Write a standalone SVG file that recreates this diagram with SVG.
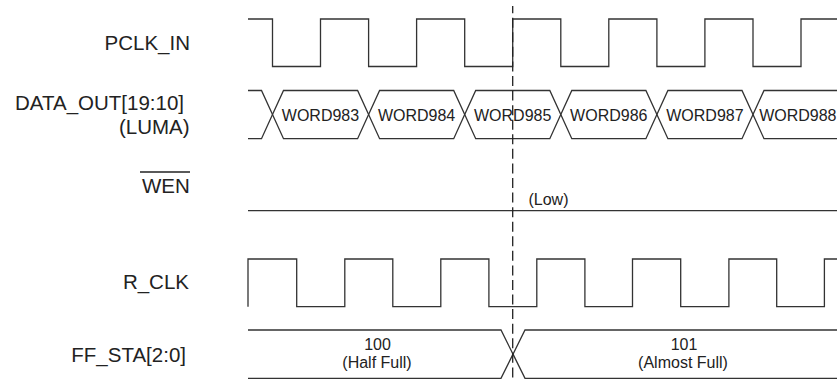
<svg xmlns="http://www.w3.org/2000/svg" width="837" height="381" viewBox="0 0 837 381">
<style>
  .sig { fill: none; stroke: #333; stroke-width: 1.3; stroke-linejoin: miter; }
  .lbl { font-family: "Liberation Sans", Arial, sans-serif; font-size: 20.5px; fill: #222; text-anchor: end; }
  .val { font-family: "Liberation Sans", Arial, sans-serif; font-size: 16px; fill: #222; text-anchor: middle; }
  .dash { fill: none; stroke: #222; stroke-width: 1.3; stroke-dasharray: 10 4.57; }
</style>
<rect width="837" height="381" fill="#fff"/>

<g id="pclk_in">
  <text class="lbl" x="190" y="50">PCLK_IN</text>
  <path class="sig" d="M248,19 H272.5 V66.5 H320.5 V19 H368.6 V66.5 H416.6 V19 H464.7 V66.5 H512.7 V19 H560.8 V66.5 H608.8 V19 H656.9 V66.5 H704.9 V19 H753 V66.5 H801 V19 H837"/>
</g>

<g id="data_out">
  <text class="lbl" x="184" y="110">DATA_OUT[19:10]</text>
  <text class="lbl" x="189.6" y="133.5">(LUMA)</text>
  <path class="sig" d="M248,90.5 H261.5 L272.5,114.6 L261.5,138.7 H248"/>
  <path class="sig" d="M272.5,114.6 L283.5,90.5 H357.6 L368.6,114.6 L357.6,138.7 H283.5 Z"/>
  <path class="sig" d="M368.6,114.6 L379.6,90.5 H453.7 L464.7,114.6 L453.7,138.7 H379.6 Z"/>
  <path class="sig" d="M464.7,114.6 L475.7,90.5 H549.8 L560.8,114.6 L549.8,138.7 H475.7 Z"/>
  <path class="sig" d="M560.8,114.6 L571.8,90.5 H645.9 L656.9,114.6 L645.9,138.7 H571.8 Z"/>
  <path class="sig" d="M656.9,114.6 L667.9,90.5 H742 L753,114.6 L742,138.7 H667.9 Z"/>
  <path class="sig" d="M837,90.5 H764 L753,114.6 L764,138.7 H837"/>
  <text class="val" x="320.5" y="120.5">WORD983</text>
  <text class="val" x="416.6" y="120.5">WORD984</text>
  <text class="val" x="512.7" y="120.5">WORD985</text>
  <text class="val" x="608.8" y="120.5">WORD986</text>
  <text class="val" x="704.9" y="120.5">WORD987</text>
  <text class="val" x="836.5" y="120.5" style="text-anchor:end">WORD988</text>
</g>

<g id="wen">
  <text class="lbl" x="189.8" y="193.3">WEN</text>
  <line x1="140" y1="172" x2="190" y2="172" stroke="#222" stroke-width="1.3"/>
  <path class="sig" d="M248,210.7 H837"/>
  <text class="val" x="548.5" y="205">(Low)</text>
</g>

<g id="r_clk">
  <text class="lbl" x="189" y="289.3">R_CLK</text>
  <path class="sig" d="M248,306.7 V259 H296.7 V306.7 H344.8 V259 H392.8 V306.7 H440.8 V259 H488.9 V306.7 H536.8 V259 H584.9 V306.7 H632.5 V259 H680.7 V306.7 H728.9 V259 H776.7 V306.7 H824.4 V259 H837"/>
</g>

<g id="ff_sta">
  <text class="lbl" x="186" y="361.7">FF_STA[2:0]</text>
  <path class="sig" d="M248,330 H501 L513,354.15 L501,378.3 H248"/>
  <path class="sig" d="M837,330 H525 L513,354.15 L525,378.3 H837"/>
  <text class="val" x="377.5" y="350">100</text>
  <text class="val" x="377" y="368">(Half Full)</text>
  <text class="val" x="684" y="350">101</text>
  <text class="val" x="683" y="368">(Almost Full)</text>
</g>

<g id="connectors">
  <line class="dash" x1="512.7" y1="6" x2="512.7" y2="381" stroke-dashoffset="2.85"/>
</g>
</svg>
